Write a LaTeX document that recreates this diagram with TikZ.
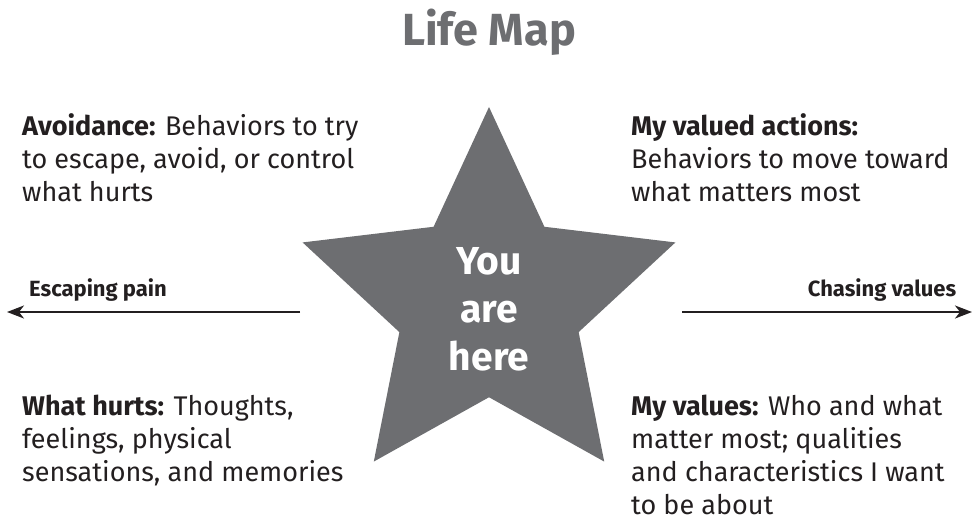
\documentclass[tikz,border=0pt]{standalone}
\usepackage{fontspec}
\setmainfont{Fira Sans}
\usepackage{xcolor}
\usetikzlibrary{shapes.geometric,arrows.meta,positioning}

\definecolor{inkgray}{HTML}{231F20}
\definecolor{stargray}{HTML}{6D6E71}

\begin{document}
\begin{tikzpicture}[x=1pt,y=-1pt,
		blurb/.style={anchor=base west, align=left, inner sep=0pt, text=inkgray, font=\fontsize{27}{33}\selectfont},
		waylabel/.style={anchor=base, inner sep=0pt, text=inkgray, font=\fontsize{22}{24}\selectfont\bfseries},
		wayarrow/.style={draw=inkgray, line width=2pt, -{Stealth[length=17pt,width=13pt,inset=5pt]}}]
	\useasboundingbox (0,0) rectangle (973,524);

	\node[anchor=base, text=stargray, font=\fontsize{45}{48}\selectfont\bfseries] (title) at (489,46) {Life Map};

	% the star in the middle
	\node[star, star points=5, star point ratio=2.08, minimum size=392pt, inner sep=0pt, fill=stargray] (star) at (489,303) {};
	\node[align=center, text=white, font=\fontsize{39}{48}\selectfont\bfseries] (here) at (489,309) {You\\are\\here};

	% four corners (base = last line)
	\node[blurb] (avoid) at (22,201) {\textbf{Avoidance:} Behaviors to try\\to escape, avoid, or control\\what hurts};
	\node[blurb] (actions) at (631,201) {\textbf{My valued actions:}\\Behaviors to move toward\\what matters most};
	\node[blurb] (hurts) at (22,481) {\textbf{What hurts:} Thoughts,\\feelings, physical\\sensations, and memories};
	\node[blurb] (values) at (631,514) {\textbf{My values:} Who and what\\matter most; qualities\\and characteristics I want\\to be about};

	% the two directions
	\coordinate (pain start) at (300,312);
	\coordinate (pain end) at (7,312);
	\coordinate (values start) at (682,312);
	\coordinate (values end) at (972,312);
	\draw[wayarrow] (pain start) -- (pain end);
	\draw[wayarrow] (values start) -- (values end);
	\node[waylabel] (pain) at (98,296) {Escaping pain};
	\node[waylabel] (chase) at (882,296) {Chasing values};
\end{tikzpicture}
\end{document}
